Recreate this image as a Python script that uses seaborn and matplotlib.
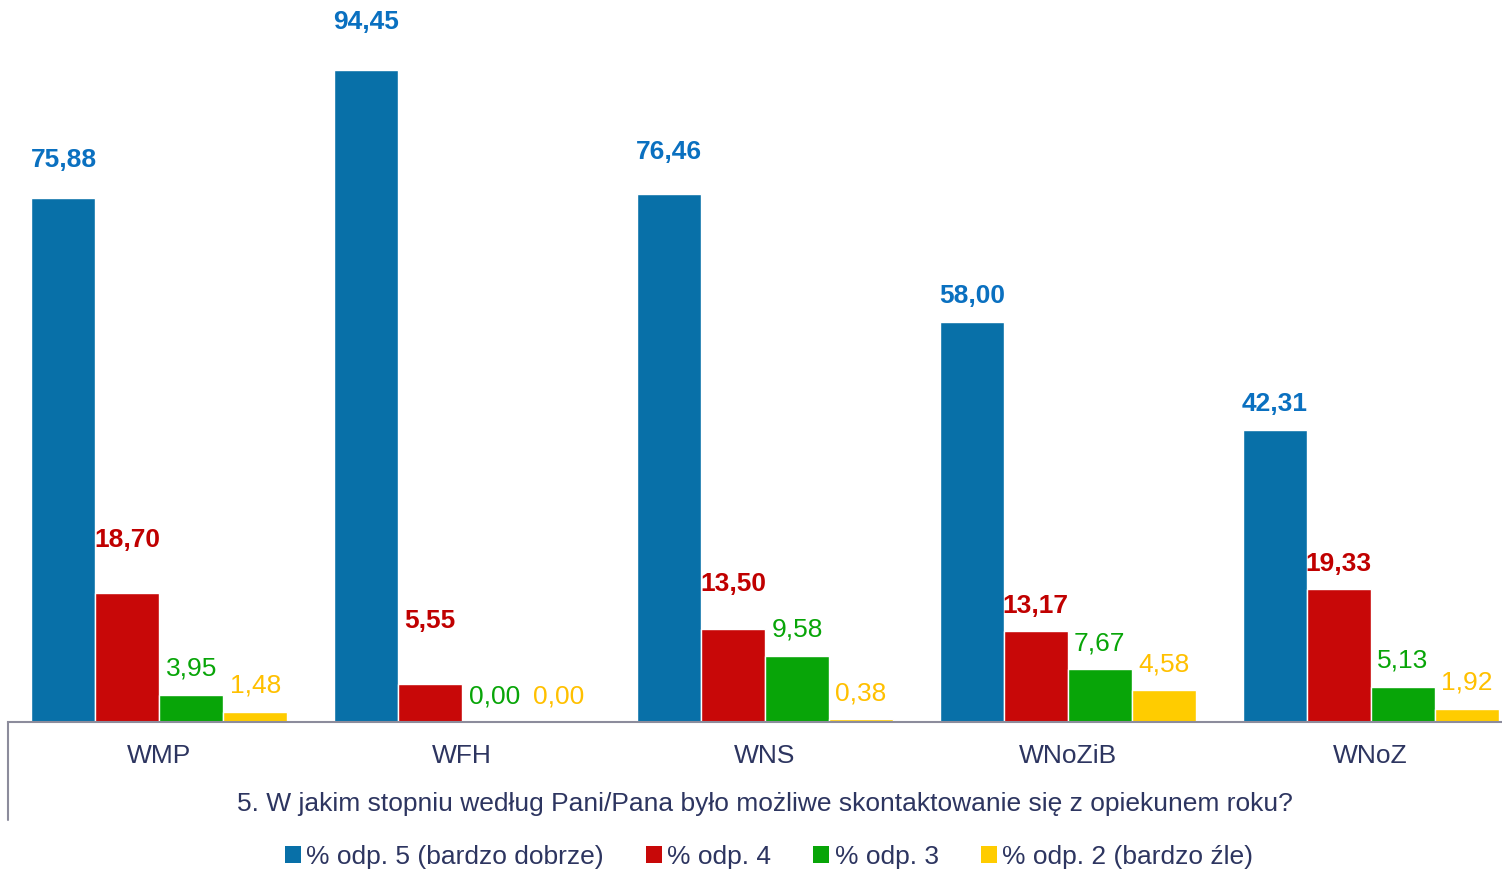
import pandas as pd
import matplotlib.pyplot as plt
import seaborn as sns
from matplotlib.patches import Patch

# Data
categories = ['WMP', 'WFH', 'WNS', 'WNoZiB', 'WNoZ']
series = ['% odp. 5 (bardzo dobrze)', '% odp. 4', '% odp. 3', '% odp. 2 (bardzo źle)']
odp5 = [75.88, 94.45, 76.46, 58.00, 42.31]
odp4 = [18.70, 5.55, 13.50, 13.17, 19.33]
odp3 = [3.95, 0.00, 9.58, 7.67, 5.13]
odp2 = [1.48, 0.00, 0.38, 4.58, 1.92]

bar_colors = ['#0870a8', '#c80808', '#08a508', '#ffcc00']
label_colors = ['#0a70c0', '#c00000', '#08a508', '#ffc000']
label_weights = ['bold', 'bold', 'normal', 'normal']
text_color = '#2d3560'
# how far each value label sits above its bar (pixels), per series
label_lift = [[38, 48, 42, 26, 26],
              [53, 63, 45, 25, 25],
              [26, 26, 26, 26, 26],
              [26, 26, 26, 26, 26]]

rows = []
for s, vals in zip(series, [odp5, odp4, odp3, odp2]):
    for c, v in zip(categories, vals):
        rows.append({'kategoria': c, 'seria': s, 'wartosc': v})
df = pd.DataFrame(rows)

sns.set_style("white")
plt.rcParams['font.family'] = ['Liberation Sans', 'DejaVu Sans']

fig = plt.figure(figsize=(15.02, 8.72), dpi=100)
ax = fig.add_axes([8 / 1502, 150 / 872, 1514 / 1502, 722 / 872])

sns.barplot(data=df, x='kategoria', y='wartosc', hue='seria',
            palette=dict(zip(series, bar_colors)), width=0.845, gap=0,
            saturation=1, legend=False, ax=ax, errorbar=None)

ax.set_ylim(0, 104.6)
ax.set_xlim(-0.5, 4.5)

# value labels
for cont, col, w, lifts in zip(ax.containers, label_colors, label_weights, label_lift):
    labels = [f'{v:.2f}'.replace('.', ',') for v in cont.datavalues]
    for bar, lab, lift in zip(cont, labels, lifts):
        ax.annotate(lab, (bar.get_x() + bar.get_width() / 2, bar.get_height()),
                    xytext=(0, lift), textcoords='offset pixels',
                    ha='center', va='center', fontsize=19, color=col,
                    fontweight=w)

for s in ['top', 'right', 'left']:
    ax.spines[s].set_visible(False)
ax.spines['bottom'].set_color('#8c8c9c')
ax.spines['bottom'].set_linewidth(1.5)
ax.plot([-0.5, -0.5], [0, -14.2], color='#8c8c9c', lw=1.5, clip_on=False)

ax.set_yticks([])
ax.set_ylabel('')
ax.tick_params(axis='x', length=0, pad=16, labelsize=19, labelcolor=text_color)
ax.set_xlabel('5. W jakim stopniu według Pani/Pana było możliwe skontaktowanie się z opiekunem roku?',
              fontsize=19, color=text_color, labelpad=17)

handles = [Patch(facecolor=c, edgecolor='none') for c in bar_colors]
fig.legend(handles, series, loc='center', bbox_to_anchor=(769 / 1502, 1 - 857 / 872),
           ncol=4, frameon=False, fontsize=19, labelcolor=text_color,
           handlelength=0.6, handleheight=0.6, handletextpad=0.2, columnspacing=1.6)

fig.savefig('out.png', dpi=100)
